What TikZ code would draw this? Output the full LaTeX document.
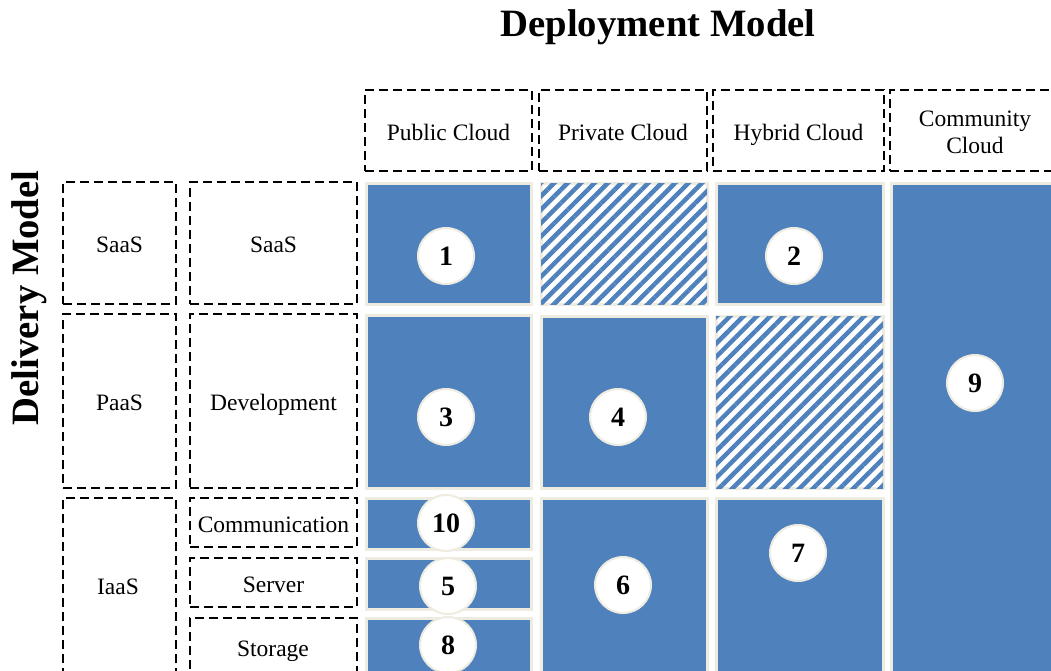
\documentclass[tikz,border=0pt]{standalone}
\usepackage{fontspec}
\setmainfont{Liberation Serif}
\usetikzlibrary{patterns.meta}
\definecolor{cellblue}{HTML}{4F81BD}
\definecolor{cellrim}{HTML}{EEEBE0}
\tikzset{
  hdrbox/.style={draw=black, dashed, dash pattern=on 9pt off 5pt, line width=2.2pt, inner sep=0pt, align=center, text height=19pt, text depth=0pt, font=\fontsize{23.5}{28}\selectfont},
  lbltext/.style={font=\fontsize{23.5}{28}\selectfont, inner sep=0pt, text height=19pt, text depth=0pt},
  fullcell/.style={draw=cellrim, fill=cellblue, line width=3pt, inner sep=0pt},
  hatchcell/.style={draw=cellrim, fill=white, line width=3pt, inner sep=0pt,
     postaction={pattern={Lines[angle=45,distance=9.5pt,line width=4.5pt]}, pattern color=cellblue}},
  numcirc/.style={circle, draw=cellrim, fill=white, line width=2pt, minimum size=56pt, inner sep=0pt, font=\bfseries\fontsize{28}{30}\selectfont},
  titletext/.style={font=\bfseries\fontsize{38.7}{42}\selectfont, inner sep=0pt}
}
\newcommand{\boxat}[6]{\node[#1, minimum width={#4-#2}, minimum height={#5-#3}] (#6) at ({(#2+#4)/2},{(#3+#5)/2})}
\begin{document}
\begin{tikzpicture}[x=1pt,y=-1pt]
\clip (0,0) rectangle (1051,670);
\fill[white] (0,0) rectangle (1051,670);
% titles
\node[titletext] (deploy) at (658,27) {Deployment Model};
\node[titletext, rotate=90] (deliver) at (29,298) {Delivery Model};
% column headers
\boxat{hdrbox}{365}{90}{532}{171}{hpub} {Public Cloud};
\boxat{hdrbox}{539}{90}{707}{171}{hpriv} {Private Cloud};
\boxat{hdrbox}{713}{90}{884}{171}{hhyb} {Hybrid Cloud};
\boxat{hdrbox}{890}{90}{1062}{171}{hcom} {};
\node[font=\fontsize{23.5}{28}\selectfont, align=center] (hcomtxt) at (975,132) {Community\\[-1pt]Cloud};
% row headers
\boxat{hdrbox}{63}{182}{176}{304}{rsaas} {SaaS};
\boxat{hdrbox}{190}{182}{357}{304}{ssaas} {SaaS};
\boxat{hdrbox}{63}{314}{176}{488}{rpaas} {PaaS};
\boxat{hdrbox}{190}{314}{357}{488}{sdev} {Development};
\boxat{hdrbox}{63}{498}{176}{690}{riaas} {};
\node[lbltext] (riaastxt) at (118,585) {IaaS};
\boxat{hdrbox}{190}{498}{357}{547}{scomm} {Communication};
\boxat{hdrbox}{190}{558}{357}{607}{sserv} {Server};
\boxat{hdrbox}{190}{618}{357}{690}{sstor} {};
\node[lbltext] (sstortxt) at (273,647) {Storage};
% cells
\boxat{fullcell}{366}{183}{531}{304}{c1} {};
\boxat{hatchcell}{541}{183}{707}{304}{cpriv1} {};
\boxat{fullcell}{716}{183}{883}{304}{c2} {};
\boxat{fullcell}{366}{315}{531}{488}{c3} {};
\boxat{fullcell}{541}{316}{707}{488}{c4} {};
\boxat{hatchcell}{716}{316}{883}{488}{chyb2} {};
\boxat{fullcell}{366}{498}{531}{549}{c10} {};
\boxat{fullcell}{366}{558}{531}{609}{c5} {};
\boxat{fullcell}{366}{618}{531}{690}{c8} {};
\boxat{fullcell}{541}{498}{707}{690}{c6} {};
\boxat{fullcell}{716}{498}{883}{690}{c7} {};
\boxat{fullcell}{891}{183}{1062}{690}{c9} {};
% numbers
\node[numcirc] (n1) at (446,256) {1};
\node[numcirc] (n2) at (794,256) {2};
\node[numcirc] (n3) at (446,417) {3};
\node[numcirc] (n4) at (618,417) {4};
\node[numcirc] (n9) at (975,383) {9};
\node[numcirc] (n10) at (446,523) {10};
\node[numcirc] (n5) at (448,586) {5};
\node[numcirc] (n8) at (448,645) {8};
\node[numcirc] (n6) at (623,585) {6};
\node[numcirc] (n7) at (798,553) {7};
\end{tikzpicture}
\end{document}
